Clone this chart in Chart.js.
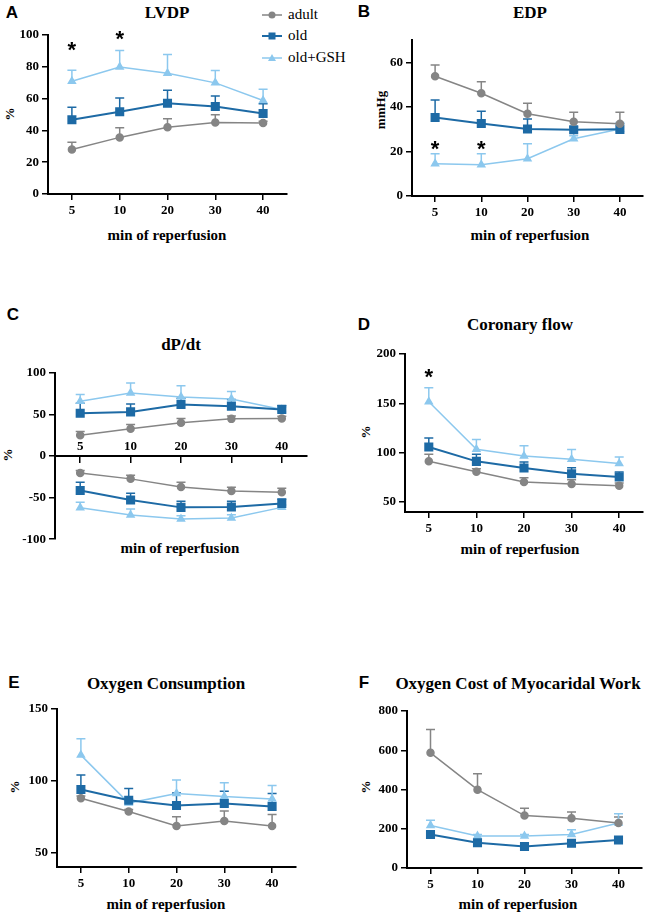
<!DOCTYPE html>
<html>
<head>
<meta charset="utf-8">
<script src="https://cdn.jsdelivr.net/npm/chart.js@4.4.0/dist/chart.umd.min.js"></script>
<style>
  body { margin: 0; background: #fff; width: 650px; height: 914px; position: relative; overflow: hidden; font-family: 'Liberation Serif', serif; }
  canvas { position: absolute; }
  .t { position: absolute; font-weight: bold; white-space: nowrap; transform: translate(-50%, -50%); color: #000; }
  .ttl { font-size: 17px; }
  .xt { font-size: 15px; }
  .yt { font-size: 13px; transform: translate(-50%, -50%) rotate(-90deg); }
  .let { font-family: 'Liberation Sans', Arial, sans-serif; font-size: 17px; }
  .leg { position: absolute; left: 262px; height: 18px; font-size: 15px; white-space: nowrap; }
  .leg svg { vertical-align: middle; margin-right: 6px; }
  .leg span { vertical-align: middle; }
</style>
</head>
<body>

<div class="t let" style="left:12px;top:13px">A</div>
<div class="t ttl" style="left:167px;top:13px">LVDP</div>
<div class="t xt" style="left:167px;top:235px">min of reperfusion</div>
<div class="t yt" style="left:10px;top:114px">%</div>

<div class="t let" style="left:364px;top:12px">B</div>
<div class="t ttl" style="left:530px;top:13px">EDP</div>
<div class="t xt" style="left:530px;top:235px">min of reperfusion</div>
<div class="t yt" style="left:381px;top:110px">mmHg</div>

<div class="t let" style="left:13px;top:315px">C</div>
<div class="t ttl" style="left:181px;top:345px">dP/dt</div>
<div class="t xt" style="left:180px;top:548px">min of reperfusion</div>
<div class="t yt" style="left:8px;top:455px">%</div>

<div class="t let" style="left:364px;top:325px">D</div>
<div class="t ttl" style="left:520px;top:325px">Coronary flow</div>
<div class="t xt" style="left:520px;top:549px">min of reperfusion</div>
<div class="t yt" style="left:366px;top:432px">%</div>

<div class="t let" style="left:14px;top:683px">E</div>
<div class="t ttl" style="left:166px;top:684px">Oxygen Consumption</div>
<div class="t xt" style="left:166px;top:904px">min of reperfusion</div>
<div class="t yt" style="left:15px;top:787px">%</div>

<div class="t let" style="left:364px;top:683px">F</div>
<div class="t ttl" style="left:518px;top:684px">Oxygen Cost of Myocaridal Work</div>
<div class="t xt" style="left:518px;top:904px">min of reperfusion</div>
<div class="t yt" style="left:366px;top:787px">%</div>

<div class="leg" style="top:5px"><svg width="20" height="12"><line x1="0" y1="6" x2="20" y2="6" stroke="#858585" stroke-width="1.5"/><circle cx="10" cy="6" r="3.5" fill="#858585"/></svg><span>adult</span></div>
<div class="leg" style="top:26px"><svg width="20" height="12"><line x1="0" y1="6" x2="20" y2="6" stroke="#1d6aa5" stroke-width="2"/><rect x="6.5" y="2.5" width="7" height="7" fill="#1d6aa5"/></svg><span>old</span></div>
<div class="leg" style="top:48px"><svg width="20" height="12"><line x1="0" y1="6" x2="20" y2="6" stroke="#8cc8ee" stroke-width="1.5"/><polygon points="10,2 14,9 6,9" fill="#8cc8ee"/></svg><span>old+GSH</span></div>

<canvas id="cA"></canvas>
<canvas id="cB"></canvas>
<canvas id="cC"></canvas>
<canvas id="cD"></canvas>
<canvas id="cE"></canvas>
<canvas id="cF"></canvas>

<script>
// time points (min of reperfusion)
const minutes = ['5', '10', '20', '30', '40'];

// A - LVDP (%)
const lvdpAdult = [28, 35.6, 42, 45, 44.6];
const lvdpAdultSem = [4.5, 6, 5.3, 4.8, 1.2];
const lvdpOld = [46.7, 51.7, 57.1, 55, 50.6];
const lvdpOldSem = [7.9, 8.6, 8.2, 6.7, 6.1];
const lvdpGsh = [70.9, 79.9, 75.9, 69.9, 58.8];
const lvdpGshSem = [6.9, 10.3, 11.8, 7.7, 7.1];
const lvdpTicks = [0, 20, 40, 60, 80, 100];
const lvdpStars = ['5', '10'];
const lvdpStarVals = [93, 100];

// B - EDP (mmHg)
const edpAdult = [53.7, 46.1, 36.9, 33.3, 32.4];
const edpAdultSem = [5.1, 5.2, 4.7, 4.3, 5.2];
const edpOld = [35.2, 32.5, 30.1, 29.7, 29.9];
const edpOldSem = [7.9, 5.5, 4.4, 1.3, 2.5];
const edpGsh = [14.5, 14, 16.7, 25.7, 30.1];
const edpGshSem = [4.5, 5, 6.7, 1.3, 2.9];
const edpTicks = [0, 20, 40, 60];
const edpStars = ['5', '10'];
const edpStarVals = [23, 23];

// C - dP/dt (%), +dP/dt and -dP/dt
const dpdtAdultMax = [25.2, 32.8, 40, 44.8, 45.2];
const dpdtAdultMaxSem = [4.4, 5.2, 5.2, 3.6, 2.8];
const dpdtOldMax = [51.6, 53.2, 62, 60, 56];
const dpdtOldMaxSem = [12, 9.6, 7.6, 8, 4.8];
const dpdtGshMax = [66, 76, 71.2, 68.8, 56];
const dpdtGshMaxSem = [8, 12, 13.6, 8.8, 3];
const dpdtAdultMin = [-20.2, -27.4, -37.1, -41.9, -43.5];
const dpdtAdultMinSem = [2.9, 4.4, 5.6, 4.4, 4.8];
const dpdtOldMin = [-41.5, -52.8, -61.7, -61.3, -56.9];
const dpdtOldMinSem = [10, 8, 7.3, 6.9, 5.3];
const dpdtGshMin = [-62.1, -71, -75.8, -74.6, -61.7];
const dpdtGshMinSem = [6.5, 7.3, 4, 4, 2.8];
const dpdtTicks = [-100, -50, 0, 50, 100];

// D - Coronary flow (%)
const cfAdult = [91.3, 80.8, 70.3, 68.3, 66.6];
const cfAdultSem = [7.1, 3.1, 4.4, 4.4, 2.7];
const cfOld = [105.9, 91.3, 84.5, 78.8, 75.4];
const cfOldSem = [9.1, 7.1, 6.1, 6.1, 5.1];
const cfGsh = [151.6, 103.5, 96.7, 93.3, 89];
const cfGshSem = [14.2, 9.8, 10.5, 9.9, 6.7];
const cfTicks = [50, 100, 150, 200];
const cfStars = ['5'];
const cfStarVals = [181];

// E - Oxygen consumption (%)
const o2Adult = [87.9, 78.6, 68.6, 72.1, 68.6];
const o2AdultSem = [1.5, 1.5, 6.3, 6.9, 7.9];
const o2Old = [94, 86.5, 82.8, 84.2, 82.1];
const o2OldSem = [10, 8.2, 8.8, 8.6, 9.1];
const o2Gsh = [117.9, 84.5, 91.2, 89, 87.4];
const o2GshSem = [11.4, 3, 9.3, 9.6, 9.3];
const o2Ticks = [50, 100, 150];

// F - Oxygen cost of myocardial work (%)
const costAdult = [587, 399, 267, 253, 229];
const costAdultSem = [119, 81, 37, 32, 31];
const costOld = [171, 129, 110, 126, 143];
const costOldSem = [17, 8, 7, 8, 8];
const costGsh = [217, 163, 163, 171, 229];
const costGshSem = [26, 8, 8, 24, 48];
const costTicks = [0, 200, 400, 600, 800];

const GRAY = '#858585', DARK = '#1d6aa5', LIGHT = '#8cc8ee';

function adult(data, sem) {
  return { label: 'adult', data, sem, borderColor: GRAY, backgroundColor: GRAY, pointStyle: 'circle', pointRadius: 3.5, borderWidth: 1.5 };
}
function old(data, sem) {
  return { label: 'old', data, sem, borderColor: DARK, backgroundColor: DARK, pointStyle: 'rect', pointRadius: 5, borderWidth: 2 };
}
function gsh(data, sem) {
  return { label: 'old+GSH', data, sem, borderColor: LIGHT, backgroundColor: LIGHT, pointStyle: 'triangle', pointRadius: 4, borderWidth: 1.5 };
}

// error bars (upper SEM) drawn under the lines
const errorBars = {
  id: 'errorBars',
  beforeDatasetsDraw(chart) {
    const ctx = chart.ctx, ys = chart.scales.y;
    chart.data.datasets.forEach((ds, di) => {
      if (!ds.sem) return;
      const meta = chart.getDatasetMeta(di);
      ctx.save();
      ctx.strokeStyle = ds.borderColor;
      ctx.lineWidth = 1.5;
      meta.data.forEach((pt, i) => {
        const top = ys.getPixelForValue(ds.data[i] + ds.sem[i]);
        ctx.beginPath();
        ctx.moveTo(pt.x, pt.y);
        ctx.lineTo(pt.x, top);
        ctx.moveTo(pt.x - 4.5, top);
        ctx.lineTo(pt.x + 4.5, top);
        ctx.stroke();
      });
      ctx.restore();
    });
  }
};

// significance asterisks
const stars = {
  id: 'stars',
  afterDatasetsDraw(chart, args, opts) {
    if (!opts.cats) return;
    const ctx = chart.ctx;
    ctx.save();
    ctx.font = 'bold 22px "Liberation Sans"';
    ctx.textAlign = 'center';
    ctx.textBaseline = 'middle';
    ctx.fillStyle = '#000';
    opts.cats.forEach((c, i) => {
      const x = chart.scales.x.getPixelForValue(chart.data.labels.indexOf(c));
      const y = chart.scales.y.getPixelForValue(opts.vals[i]);
      ctx.fillText('*', x, y + 5);
    });
    ctx.restore();
  }
};

// x tick labels above a zero-crossing axis (panel C)
const topLabels = {
  id: 'topLabels',
  afterDraw(chart, args, opts) {
    if (!opts.show) return;
    const ctx = chart.ctx, xs = chart.scales.x;
    const y0 = chart.scales.y.getPixelForValue(0);
    ctx.save();
    ctx.font = 'bold 13px "Liberation Serif"';
    ctx.textAlign = 'center';
    ctx.textBaseline = 'bottom';
    ctx.fillStyle = '#000';
    chart.data.labels.forEach((l, i) => ctx.fillText(l, xs.getPixelForValue(i), y0 - 3));
    ctx.restore();
  }
};

Chart.register(errorBars, stars, topLabels);
Chart.defaults.font.family = '"Liberation Serif", serif';
Chart.defaults.font.weight = 'bold';
Chart.defaults.font.size = 13;
Chart.defaults.color = '#000';

// area = chart area box in page pixels
function panel(id, area, yMin, yMax, yTicks, datasets, starCats, starVals, zeroAxis) {
  const cv = document.getElementById(id);
  const left = area.l - 50, top = area.t - 15;
  const right = Math.min(area.r + 8, 650);
  const xh = zeroAxis ? 0 : 28;
  const bottom = area.b + (zeroAxis ? 10 : xh);
  cv.width = right - left;
  cv.height = bottom - top;
  cv.style.left = left + 'px';
  cv.style.top = top + 'px';
  const axisGrid = { drawOnChartArea: false, color: '#000', lineWidth: 1.5, tickLength: 6 };
  const axisBorder = { color: '#000', width: 2 };
  new Chart(cv, {
    type: 'line',
    data: { labels: minutes, datasets: datasets.map(d => Object.assign({ tension: 0, clip: false, fill: false }, d)) },
    options: {
      responsive: false,
      animation: false,
      devicePixelRatio: 1,
      layout: { padding: { top: 15, right: right - area.r, left: 0, bottom: zeroAxis ? 10 : 0 } },
      plugins: {
        legend: { display: false },
        tooltip: { enabled: false },
        stars: { cats: starCats, vals: starVals },
        topLabels: { show: !!zeroAxis }
      },
      scales: {
        x: {
          type: 'category',
          offset: true,
          position: zeroAxis ? { y: 0 } : 'bottom',
          grid: Object.assign({ offset: false }, axisGrid),
          border: axisBorder,
          ticks: { display: !zeroAxis, padding: 3, maxRotation: 0, autoSkip: false },
          afterFit: s => { if (!zeroAxis) s.height = xh; }
        },
        y: {
          min: yMin,
          max: yMax,
          grid: axisGrid,
          border: axisBorder,
          ticks: { padding: 3 },
          afterBuildTicks: s => { s.ticks = yTicks.map(v => ({ value: v })); },
          afterFit: s => { s.width = 50; }
        }
      }
    }
  });
}

panel('cA', { l: 48, t: 35, r: 287, b: 194 }, 0, 100, lvdpTicks,
  [adult(lvdpAdult, lvdpAdultSem), old(lvdpOld, lvdpOldSem), gsh(lvdpGsh, lvdpGshSem)],
  lvdpStars, lvdpStarVals);

panel('cB', { l: 412, t: 40, r: 648, b: 196 }, 0, 70, edpTicks,
  [adult(edpAdult, edpAdultSem), old(edpOld, edpOldSem), gsh(edpGsh, edpGshSem)],
  edpStars, edpStarVals);

panel('cC', { l: 55, t: 373, r: 307, b: 540 }, -100, 100, dpdtTicks,
  [adult(dpdtAdultMax, dpdtAdultMaxSem), old(dpdtOldMax, dpdtOldMaxSem), gsh(dpdtGshMax, dpdtGshMaxSem),
   adult(dpdtAdultMin, dpdtAdultMinSem), old(dpdtOldMin, dpdtOldMinSem), gsh(dpdtGshMin, dpdtGshMinSem)],
  null, null, true);

panel('cD', { l: 405, t: 354, r: 643, b: 512 }, 40, 200, cfTicks,
  [adult(cfAdult, cfAdultSem), old(cfOld, cfOldSem), gsh(cfGsh, cfGshSem)],
  cfStars, cfStarVals);

panel('cE', { l: 57, t: 709, r: 296, b: 867 }, 40, 150, o2Ticks,
  [adult(o2Adult, o2AdultSem), old(o2Old, o2OldSem), gsh(o2Gsh, o2GshSem)]);

panel('cF', { l: 407, t: 711, r: 642, b: 868 }, 0, 800, costTicks,
  [adult(costAdult, costAdultSem), old(costOld, costOldSem), gsh(costGsh, costGshSem)]);
</script>
</body>
</html>
